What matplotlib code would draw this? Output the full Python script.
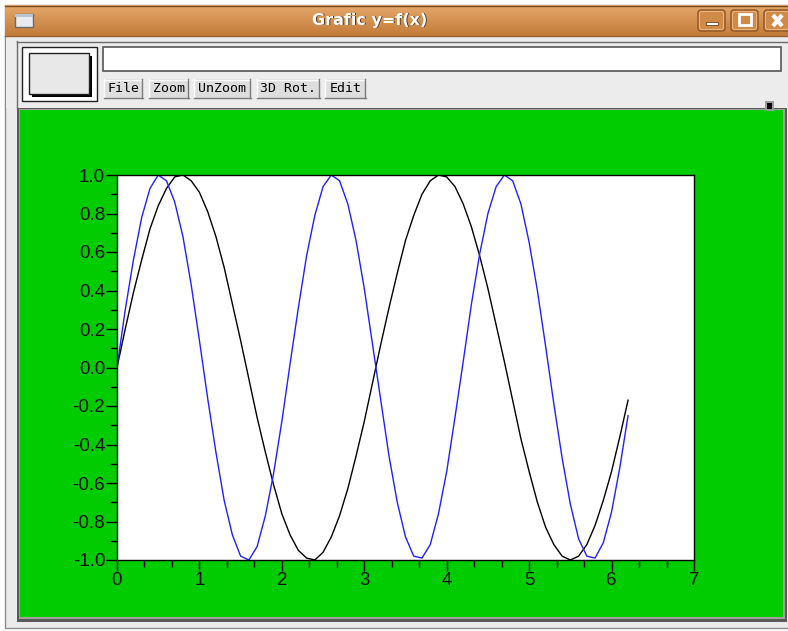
import numpy as np
import matplotlib
matplotlib.use("Agg")
import matplotlib.pyplot as plt
from matplotlib.patches import Rectangle, FancyBboxPatch
from matplotlib.ticker import MultipleLocator, FixedLocator, FormatStrFormatter

# ---------------- data ----------------
x_vals = [0.0, 0.1, 0.2, 0.3, 0.4, 0.5, 0.6, 0.7, 0.8, 0.9,
          1.0, 1.1, 1.2, 1.3, 1.4, 1.5, 1.6, 1.7, 1.8, 1.9,
          2.0, 2.1, 2.2, 2.3, 2.4, 2.5, 2.6, 2.7, 2.8, 2.9,
          3.0, 3.1, 3.2, 3.3, 3.4, 3.5, 3.6, 3.7, 3.8, 3.9,
          4.0, 4.1, 4.2, 4.3, 4.4, 4.5, 4.6, 4.7, 4.8, 4.9,
          5.0, 5.1, 5.2, 5.3, 5.4, 5.5, 5.6, 5.7, 5.8, 5.9,
          6.0, 6.1, 6.2]
y_black = [0.00, 0.20, 0.39, 0.56, 0.72, 0.84, 0.93, 0.99, 1.00, 0.97,
           0.91, 0.81, 0.68, 0.52, 0.33, 0.14, -0.06, -0.26, -0.44, -0.61,
           -0.76, -0.87, -0.95, -0.99, -1.00, -0.96, -0.88, -0.77, -0.63, -0.46,
           -0.28, -0.08, 0.12, 0.31, 0.49, 0.66, 0.79, 0.90, 0.97, 1.00,
           0.99, 0.94, 0.85, 0.73, 0.58, 0.41, 0.22, 0.03, -0.17, -0.37,
           -0.54, -0.70, -0.83, -0.92, -0.98, -1.00, -0.98, -0.92, -0.82, -0.69,
           -0.54, -0.36, -0.17]
y_blue = [0.00, 0.30, 0.56, 0.78, 0.93, 1.00, 0.97, 0.86, 0.68, 0.43,
          0.14, -0.16, -0.44, -0.69, -0.87, -0.98, -1.00, -0.93, -0.77, -0.55,
          -0.28, 0.02, 0.31, 0.58, 0.79, 0.94, 1.00, 0.97, 0.85, 0.66,
          0.41, 0.12, -0.17, -0.46, -0.70, -0.88, -0.98, -0.99, -0.92, -0.76,
          -0.54, -0.26, 0.03, 0.33, 0.59, 0.80, 0.94, 1.00, 0.97, 0.85,
          0.65, 0.40, 0.11, -0.19, -0.47, -0.71, -0.89, -0.98, -0.99, -0.91,
          -0.75, -0.52, -0.25]
x_ticks = [0, 1, 2, 3, 4, 5, 6, 7]
y_ticks = [-1.0, -0.8, -0.6, -0.4, -0.2, 0.0, 0.2, 0.4, 0.6, 0.8, 1.0]
window_title = "Grafic y=f(x)"
button_labels = ["File", "Zoom", "UnZoom", "3D Rot.", "Edit"]

W, H = 788, 631
fig = plt.figure(figsize=(W / 100, H / 100), dpi=100)
fig.patch.set_facecolor("white")

# ---------------- window chrome (pixel coords) ----------------
bg = fig.add_axes([0, 0, 1, 1], zorder=0)
bg.set_xlim(0, W)
bg.set_ylim(H, 0)
bg.axis("off")

def rect(x0, y0, x1, y1, fc, ec="none", lw=0, z=1):
    bg.add_patch(Rectangle((x0, y0), x1 - x0, y1 - y0, facecolor=fc,
                           edgecolor=ec, linewidth=lw, zorder=z))

# window frame
rect(5, 5, 800, 628, "#ebebeb", "#8a8a8a", 1, z=1)
# title bar gradient
grad = np.linspace(0, 1, 64).reshape(-1, 1)
c_top = np.array([0.90, 0.66, 0.42])
c_bot = np.array([0.76, 0.48, 0.22])
img = c_top + (c_bot - c_top) * grad[..., None]
img = np.repeat(img, 2, axis=1)
bg.imshow(img, extent=[5, 800, 36, 5], aspect="auto", zorder=2,
          interpolation="bilinear")
bg.plot([5, 800], [36, 36], color="#9a6030", lw=1, zorder=3)
bg.plot([5, 800], [5.5, 5.5], color="#7a4a20", lw=1, zorder=3)
# top-left icon
rect(15, 14, 33, 27, "#e8ecf0", "#6a6a6a", 1, z=4)
rect(15, 14, 33, 17, "#b8c4d0", "none", 0, z=4)
# title text with shadow
bg.text(371, 21, window_title, color="#3a2410", fontsize=11.5,
        fontweight="bold", ha="center", va="center", zorder=5, alpha=0.8,
        family="DejaVu Sans")
bg.text(370, 20, window_title, color="white", fontsize=11.5,
        fontweight="bold", ha="center", va="center", zorder=6,
        family="DejaVu Sans")
# window buttons
for bx0 in (697, 730, 763):
    bg.add_patch(FancyBboxPatch((bx0 + 1, 10), 27, 21,
                                boxstyle="round,pad=0,rounding_size=3",
                                facecolor="#d08a48", edgecolor="#8c5424",
                                linewidth=1, zorder=4))
    bg.add_patch(FancyBboxPatch((bx0 + 2.5, 11.5), 24, 18,
                                boxstyle="round,pad=0,rounding_size=2",
                                facecolor="none", edgecolor="#eab47c",
                                linewidth=0.8, zorder=4))
# minimize glyph
rect(706, 22, 718, 25, "white", "#6a4020", 0.6, z=5)
# maximize glyph
bg.add_patch(Rectangle((739, 14), 12, 11, facecolor="none",
                       edgecolor="white", linewidth=2, zorder=5))
# close glyph
bg.plot([773, 782], [15, 26], color="white", lw=3, zorder=5,
        solid_capstyle="butt")
bg.plot([773, 782], [26, 15], color="white", lw=3, zorder=5,
        solid_capstyle="butt")

# toolbar panel
rect(6, 37, 800, 108, "#ececec", z=2)
bg.plot([17, 800], [41.5, 41.5], color="#6a6a6a", lw=1, zorder=3)
bg.plot([17.5, 17.5], [41, 108], color="#6a6a6a", lw=1, zorder=3)
# square widget
rect(22, 47, 97, 101, "white", "#222222", 1, z=3)
rect(32, 56, 92, 97, "black", z=3)
rect(29, 53, 89, 94, "#e8e8e8", "#222222", 1, z=4)
# text field
rect(103, 47, 781, 71, "white", "#555555", 1.2, z=3)
# buttons
btn_x = [(104, 143), (149, 189), (194, 251), (257, 320), (325, 366)]
for (bx0, bx1), lab in zip(btn_x, button_labels):
    rect(bx0, 79, bx1, 98, "#dedede", z=3)
    bg.plot([bx0, bx1], [79.5, 79.5], color="white", lw=1, zorder=4)
    bg.plot([bx0 + 0.5, bx0 + 0.5], [79, 98], color="white", lw=1, zorder=4)
    bg.plot([bx0, bx1], [97.5, 97.5], color="#7a7a7a", lw=1, zorder=4)
    bg.plot([bx1 - 0.5, bx1 - 0.5], [79, 98], color="#7a7a7a", lw=1, zorder=4)
    bg.text((bx0 + bx1) / 2, 89, lab, family="DejaVu Sans Mono",
            fontsize=9.5, ha="center", va="center", color="black", zorder=5)

# green canvas with borders
rect(17, 108, 787, 622, "#5a5a5a", z=2)
rect(19, 109, 785, 619, "#a0a0a0", z=2)
rect(20, 110, 783, 617, "#00cc00", z=3)
# resize handle
rect(765, 101, 774, 111, "#9a9a9a", z=5)
rect(767, 103, 772, 109, "black", z=6)

# ---------------- plot ----------------
L, R, T, B = 117, 694, 175, 560
ax = fig.add_axes([L / W, 1 - B / H, (R - L) / W, (B - T) / H], zorder=2)
ax.set_facecolor("white")
ax.plot(x_vals, y_black, color="black", lw=1.0)
ax.plot(x_vals, y_blue, color="#2020ff", lw=1.0)
ax.set_xlim(0, 7)
ax.set_ylim(-1, 1)
ax.xaxis.set_major_locator(FixedLocator(x_ticks))
ax.yaxis.set_major_locator(FixedLocator(y_ticks))
ax.xaxis.set_minor_locator(MultipleLocator(1 / 3))
ax.yaxis.set_minor_locator(MultipleLocator(0.1))
ax.yaxis.set_major_formatter(FormatStrFormatter("%.1f"))
for sp in ax.spines.values():
    sp.set_color("black")
    sp.set_linewidth(1.0)
ax.tick_params(which="major", direction="out", length=8, width=1,
               color="black", labelsize=13.5, pad=0.5, labelcolor="#101010")
ax.tick_params(which="minor", direction="out", length=5, width=1,
               color="black")
ax.tick_params(top=False, right=False, which="both")
for lbl in ax.get_xticklabels() + ax.get_yticklabels():
    lbl.set_family(["Liberation Sans Narrow", "Liberation Sans", "DejaVu Sans"])

fig.savefig("out.png", dpi=100, facecolor="white")
